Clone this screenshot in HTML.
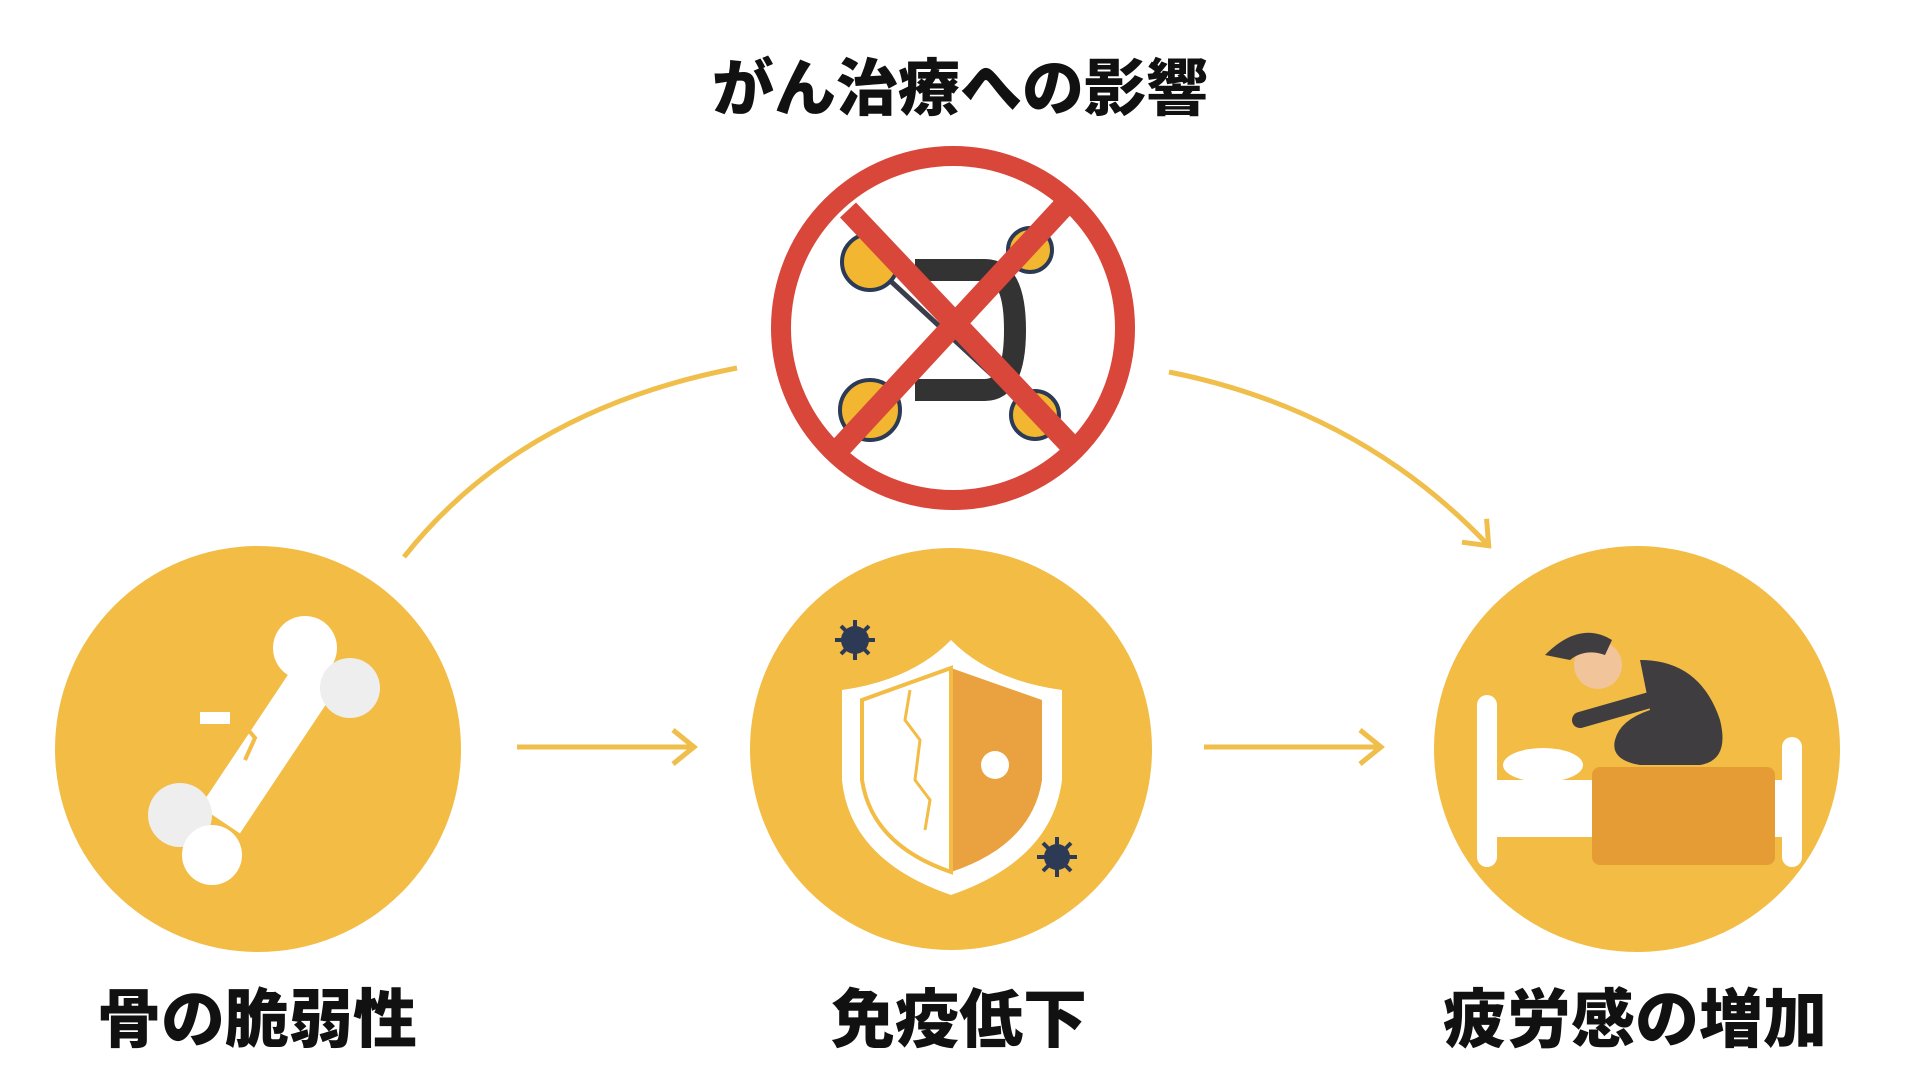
<!DOCTYPE html>
<html><head><meta charset="utf-8"><style>
html,body{margin:0;padding:0;background:#fff;width:1920px;height:1080px;overflow:hidden}
svg{position:absolute;left:0;top:0}
.t{font-family:"Liberation Sans","Noto Sans CJK JP",sans-serif;font-weight:900;fill:#111}
</style></head><body>
<svg width="1920" height="1080" viewBox="0 0 1920 1080">
<defs>
<marker id="ah" markerWidth="30" markerHeight="40" refX="24" refY="20" orient="auto" markerUnits="userSpaceOnUse" viewBox="0 0 30 40"><path d="M4,3 L25,20 L4,37" fill="none" stroke="#f0be4a" stroke-width="5"/></marker>
</defs>
<text class="t" x="960" y="110" font-size="62" text-anchor="middle">がん治療への影響</text>
<g>
<line x1="870" y1="262" x2="1030" y2="410" stroke="#3a3d4a" stroke-width="5"/>
<line x1="1030" y1="255" x2="870" y2="410" stroke="#3a3d4a" stroke-width="5"/>
<path d="M915,270 L985,270 Q1015,270 1015,330 Q1015,390 985,390 L915,390" fill="none" stroke="#333" stroke-width="22"/>
<circle cx="870" cy="262" r="28" fill="#f2b630" stroke="#2b3a55" stroke-width="4"/>
<circle cx="1030" cy="250" r="22" fill="#f2b630" stroke="#2b3a55" stroke-width="4"/>
<circle cx="870" cy="410" r="30" fill="#f2b630" stroke="#2b3a55" stroke-width="4"/>
<circle cx="1035" cy="415" r="24" fill="#f2b630" stroke="#2b3a55" stroke-width="4"/>
<circle cx="953" cy="328" r="172" fill="none" stroke="#d9463a" stroke-width="20"/>
<line x1="848" y1="210" x2="1075" y2="450" stroke="#d9463a" stroke-width="22"/>
<line x1="1063" y1="207" x2="840" y2="448" stroke="#d9463a" stroke-width="22"/>
</g>
<path d="M404,557 Q520,410 737,368" fill="none" stroke="#f0be4a" stroke-width="5"/>
<path d="M1169,372 Q1360,410 1488,545" fill="none" stroke="#f0be4a" stroke-width="5" marker-end="url(#ah)"/>
<line x1="517" y1="747" x2="693" y2="747" stroke="#f0be4a" stroke-width="5" marker-end="url(#ah)"/>
<line x1="1204" y1="747" x2="1380" y2="747" stroke="#f0be4a" stroke-width="5" marker-end="url(#ah)"/>
<circle cx="258" cy="749" r="203" fill="#f2bc45"/>
<circle cx="951" cy="749" r="201" fill="#f2bc45"/>
<circle cx="1637" cy="749" r="203" fill="#f2bc45"/>
<g fill="#fff">
<line x1="220" y1="820" x2="320" y2="670" stroke="#fff" stroke-width="48"/>
<circle cx="305" cy="648" r="32"/><circle cx="350" cy="688" r="30" fill="#eee"/>
<circle cx="180" cy="815" r="32" fill="#eee"/><circle cx="212" cy="855" r="30"/>
<rect x="200" y="712" width="30" height="12"/>
<path d="M240,720 L255,738 L245,760" stroke="#f2bc45" stroke-width="4" fill="none"/>
</g>
<g>
<path d="M951,640 Q990,680 1062,690 L1062,780 Q1052,860 951,895 Q850,860 842,780 L842,690 Q912,680 951,640Z" fill="#fff"/>
<path d="M951,668 L1042,700 L1042,780 Q1032,845 951,872Z" fill="#e9a23f"/>
<path d="M951,668 L862,700 L862,780 Q872,845 951,872Z" fill="none" stroke="#f2bc45" stroke-width="4"/>
<path d="M910,690 L905,720 L920,740 L915,780 L930,800 L925,830" fill="none" stroke="#f2bc45" stroke-width="3"/>
<circle cx="995" cy="765" r="14" fill="#fff"/>
<g stroke="#2d3a55" stroke-width="4"><line x1="835" y1="640" x2="875" y2="640"/><line x1="855" y1="620" x2="855" y2="660"/><line x1="841" y1="626" x2="869" y2="654"/><line x1="869" y1="626" x2="841" y2="654"/>
<line x1="1037" y1="857" x2="1077" y2="857"/><line x1="1057" y1="837" x2="1057" y2="877"/><line x1="1043" y1="843" x2="1071" y2="871"/><line x1="1071" y1="843" x2="1043" y2="871"/></g>
<circle cx="855" cy="640" r="14" fill="#2d3a55"/>
<circle cx="1057" cy="857" r="13" fill="#2d3a55"/>
</g>
<g>
<rect x="1477" y="695" width="20" height="172" rx="10" fill="#fff"/>
<rect x="1782" y="737" width="20" height="130" rx="10" fill="#fff"/>
<rect x="1490" y="780" width="300" height="57" fill="#fff"/>
<ellipse cx="1543" cy="765" rx="40" ry="17" fill="#fff"/>
<path d="M1640,660 Q1700,660 1720,720 Q1730,760 1700,765 L1640,765 Q1610,760 1615,740 Q1620,720 1650,710 Z" fill="#3f3d3f"/>
<path d="M1650,700 L1580,720" stroke="#3f3d3f" stroke-width="16" stroke-linecap="round"/>
<circle cx="1598" cy="665" r="24" fill="#f1c49a"/>
<path d="M1545,655 Q1580,620 1612,640 L1605,655 Q1585,648 1570,660 Z" fill="#3f3d3f"/>
<rect x="1592" y="767" width="183" height="98" rx="8" fill="#e69c35"/>
</g>
<text class="t" x="257" y="1042" font-size="64" text-anchor="middle">骨の脆弱性</text>
<text class="t" x="959" y="1042" font-size="64" text-anchor="middle">免疫低下</text>
<text class="t" x="1635" y="1042" font-size="64" text-anchor="middle">疲労感の増加</text>
</svg>
</body></html>
